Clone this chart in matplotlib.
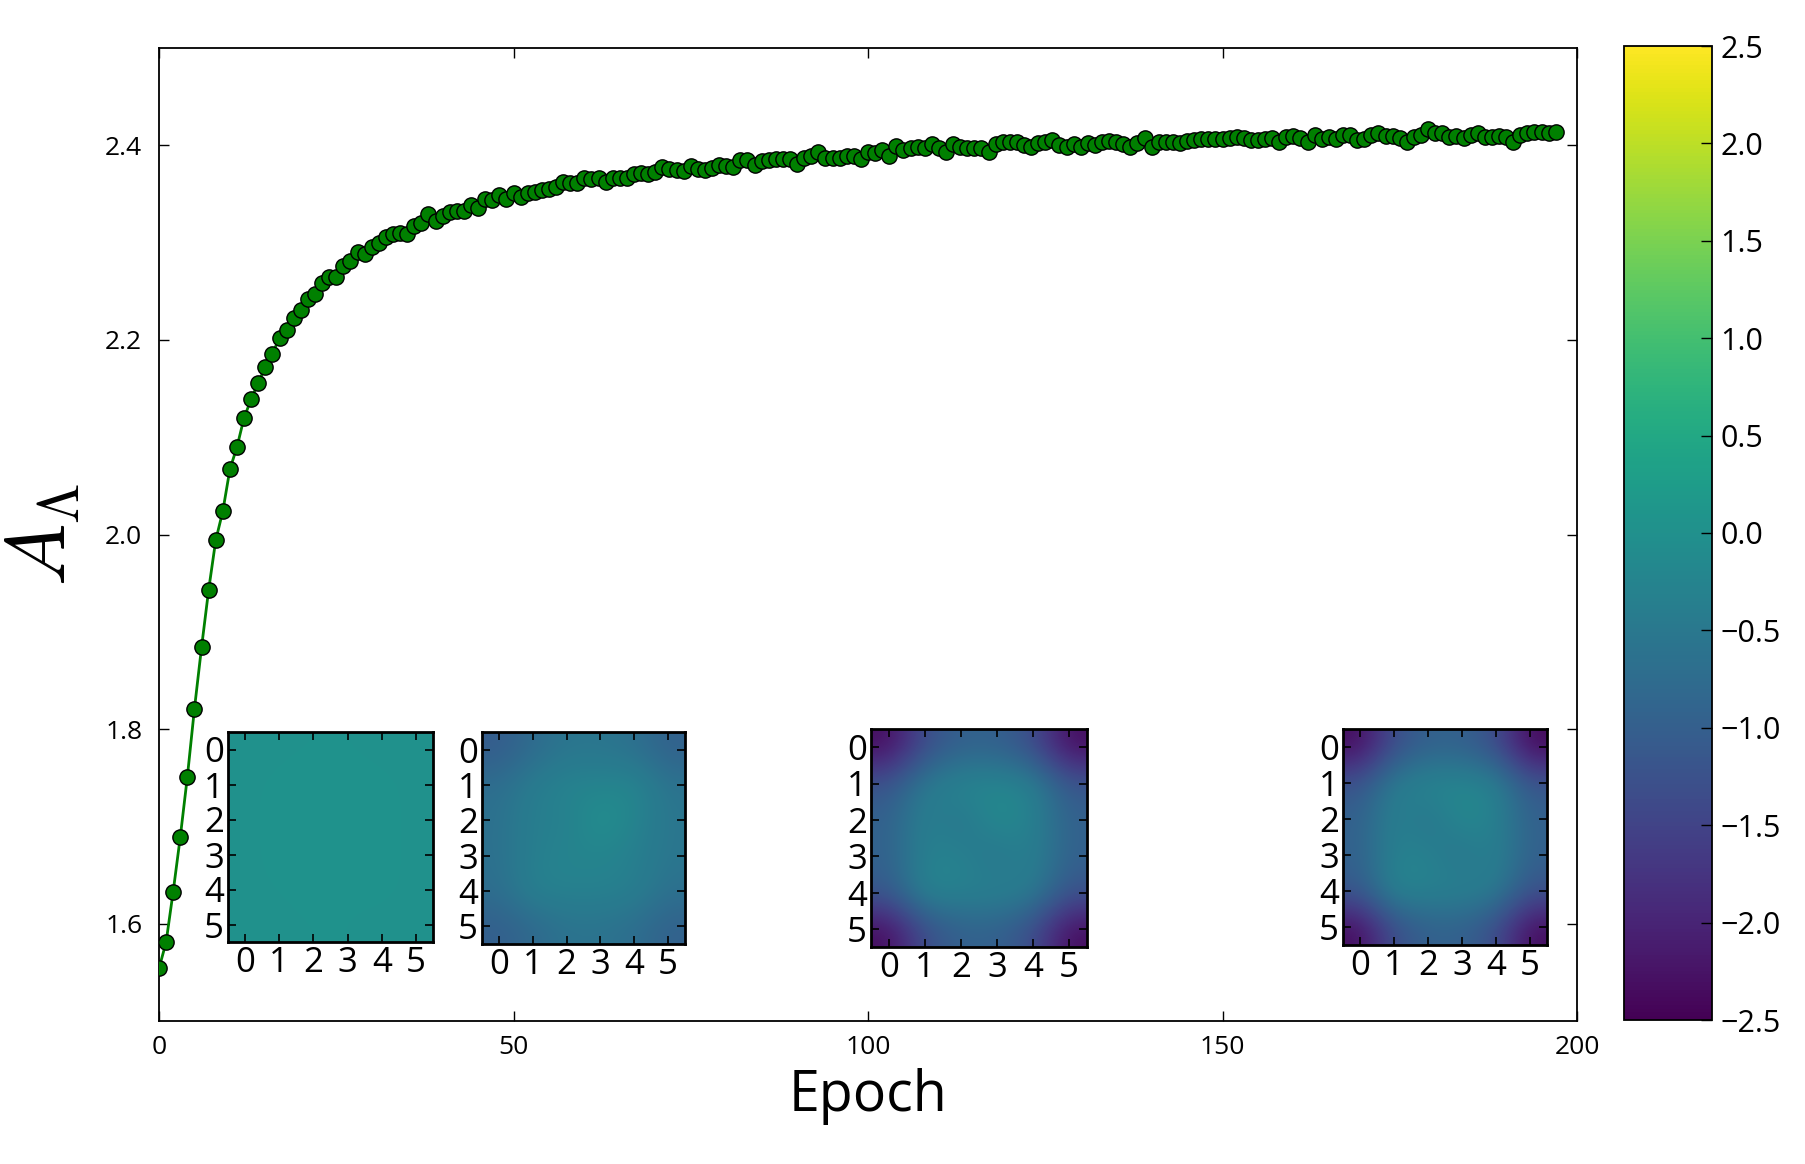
import matplotlib
matplotlib.use('Agg')
import matplotlib.pyplot as plt
import numpy as np

plt.rcParams['font.family'] = ['Open Sans', 'DejaVu Sans']
plt.rcParams['mathtext.fontset'] = 'cm'
plt.rcParams['axes.unicode_minus'] = True

# A_Lambda per epoch
a_lambda = [
    1.554, 1.581, 1.633, 1.689, 1.751, 1.821, 1.884, 1.943, 1.994, 2.024,
    2.067, 2.090, 2.120, 2.139, 2.156, 2.172, 2.186, 2.202, 2.210, 2.223,
    2.231, 2.242, 2.247, 2.258, 2.265, 2.265, 2.276, 2.281, 2.290, 2.288,
    2.295, 2.300, 2.306, 2.309, 2.310, 2.309, 2.317, 2.320, 2.329, 2.322,
    2.327, 2.331, 2.332, 2.332, 2.339, 2.336, 2.345, 2.344, 2.349, 2.345,
    2.351, 2.347, 2.351, 2.352, 2.354, 2.355, 2.357, 2.362, 2.361, 2.361,
    2.366, 2.365, 2.366, 2.362, 2.366, 2.366, 2.366, 2.370, 2.372, 2.370,
    2.373, 2.378, 2.376, 2.375, 2.374, 2.379, 2.376, 2.375, 2.377, 2.380,
    2.379, 2.378, 2.385, 2.385, 2.380, 2.384, 2.385, 2.386, 2.386, 2.386,
    2.381, 2.387, 2.389, 2.393, 2.387, 2.387, 2.387, 2.389, 2.389, 2.386,
    2.393, 2.392, 2.395, 2.389, 2.399, 2.395, 2.397, 2.398, 2.397, 2.401,
    2.397, 2.393, 2.401, 2.398, 2.397, 2.397, 2.397, 2.393, 2.401, 2.403,
    2.403, 2.403, 2.400, 2.398, 2.402, 2.403, 2.405, 2.400, 2.398, 2.401,
    2.398, 2.402, 2.400, 2.403, 2.404, 2.403, 2.401, 2.398, 2.402, 2.407,
    2.398, 2.403, 2.403, 2.403, 2.402, 2.404, 2.405, 2.406, 2.406, 2.406,
    2.406, 2.407, 2.409, 2.408, 2.405, 2.405, 2.406, 2.408, 2.403, 2.409,
    2.410, 2.407, 2.403, 2.411, 2.406, 2.409, 2.406, 2.411, 2.411, 2.405,
    2.406, 2.411, 2.413, 2.410, 2.410, 2.408, 2.403, 2.409, 2.411, 2.417,
    2.413, 2.413, 2.409, 2.410, 2.408, 2.411, 2.413, 2.409, 2.409, 2.410,
    2.409, 2.403, 2.411, 2.413, 2.414, 2.414, 2.413, 2.414,
]
epochs = np.arange(len(a_lambda))

# 6x6 weight snapshots shown as insets
snap_1 = [
    [0.02, 0.03, 0.04, 0.04, 0.03, 0.02],
    [0.03, 0.05, 0.06, 0.05, 0.05, 0.03],
    [0.03, 0.05, 0.04, 0.06, 0.05, 0.03],
    [0.03, 0.05, 0.06, 0.05, 0.05, 0.03],
    [0.03, 0.04, 0.05, 0.04, 0.05, 0.03],
    [0.02, 0.03, 0.04, 0.04, 0.03, 0.02],
]
snap_2 = [
    [-1.05, -0.75, -0.55, -0.55, -0.65, -0.95],
    [-0.70, -0.40, -0.25, -0.25, -0.20, -0.60],
    [-0.65, -0.35, -0.35, 0.00, -0.25, -0.55],
    [-0.65, -0.35, -0.25, -0.25, -0.35, -0.55],
    [-0.70, -0.30, -0.30, -0.30, -0.35, -0.65],
    [-1.00, -0.80, -0.60, -0.60, -0.70, -0.95],
]
snap_3 = [
    [-2.35, -1.30, -0.95, -0.95, -1.30, -2.35],
    [-1.20, -0.45, -0.20, -0.20, -0.30, -1.15],
    [-0.95, -0.30, -0.60, -0.10, -0.30, -0.95],
    [-0.95, -0.30, -0.30, -0.60, -0.30, -0.95],
    [-1.10, -0.20, -0.30, -0.30, -0.40, -1.20],
    [-2.35, -1.30, -0.95, -0.95, -1.30, -2.35],
]
snap_4 = [
    [-2.35, -1.30, -0.95, -0.95, -1.30, -2.40],
    [-1.20, -0.40, -0.20, -0.20, -0.30, -1.15],
    [-0.95, -0.30, -0.60, -0.15, -0.30, -0.95],
    [-0.95, -0.30, -0.30, -0.60, -0.30, -0.95],
    [-1.10, -0.20, -0.30, -0.30, -0.40, -1.20],
    [-2.35, -1.30, -0.95, -0.95, -1.30, -2.35],
]
snapshots = [snap_1, snap_2, snap_3, snap_4]
# inset boxes in pixels: left, top, right, bottom
inset_boxes = [(228, 732, 433, 942), (482, 732, 685, 944),
               (871, 729, 1087, 947), (1343, 729, 1547, 945)]
cbar_ticks = [-2.5, -2.0, -1.5, -1.0, -0.5, 0.0, 0.5, 1.0, 1.5, 2.0, 2.5]

W, H = 1805, 1164
fig = plt.figure(figsize=(W / 100, H / 100), dpi=100)


def px_axes(l, t, r, b):
    return fig.add_axes([l / W, 1 - b / H, (r - l) / W, (b - t) / H])


ax = px_axes(159, 48, 1577, 1021)
ax.plot(epochs, a_lambda, '-o', color='green', lw=2, markersize=11,
        markerfacecolor='green', markeredgecolor='black', markeredgewidth=1, zorder=3)
ax.set_xlim(0, 200)
ax.set_ylim(1.5, 2.5)
ax.set_xticks([0, 50, 100, 150, 200])
ax.set_yticks([1.6, 1.8, 2.0, 2.2, 2.4])
ax.tick_params(direction='in', top=True, right=True, length=7, width=1, labelsize=19)
ax.tick_params(axis='x', pad=10)
ax.tick_params(axis='y', pad=12)
ax.set_xlabel('Epoch', fontsize=40, labelpad=6)
ax.set_ylabel(r'$A_\Lambda$', fontsize=60, labelpad=14)
for sp in ax.spines.values():
    sp.set_linewidth(1.3)

im = None
for data, box in zip(snapshots, inset_boxes):
    iax = px_axes(*box)
    im = iax.imshow(np.array(data), cmap='viridis', vmin=-2.5, vmax=2.5,
                    interpolation='bicubic', aspect='auto')
    iax.set_xticks(range(6))
    iax.set_yticks(range(6))
    iax.tick_params(direction='in', top=True, right=True, length=6, width=1.2,
                    labelsize=25, pad=3)
    for sp in iax.spines.values():
        sp.set_linewidth(2)

cax = px_axes(1624, 46, 1712, 1020)
cb = fig.colorbar(im, cax=cax, ticks=cbar_ticks)
cb.ax.tick_params(direction='in', length=8, width=1, labelsize=22, pad=6)
cb.ax.set_yticklabels([('%.1f' % v).replace('-', '\u2212') for v in cbar_ticks])
cb.outline.set_linewidth(1.3)

fig.savefig('out.png', dpi=100)
